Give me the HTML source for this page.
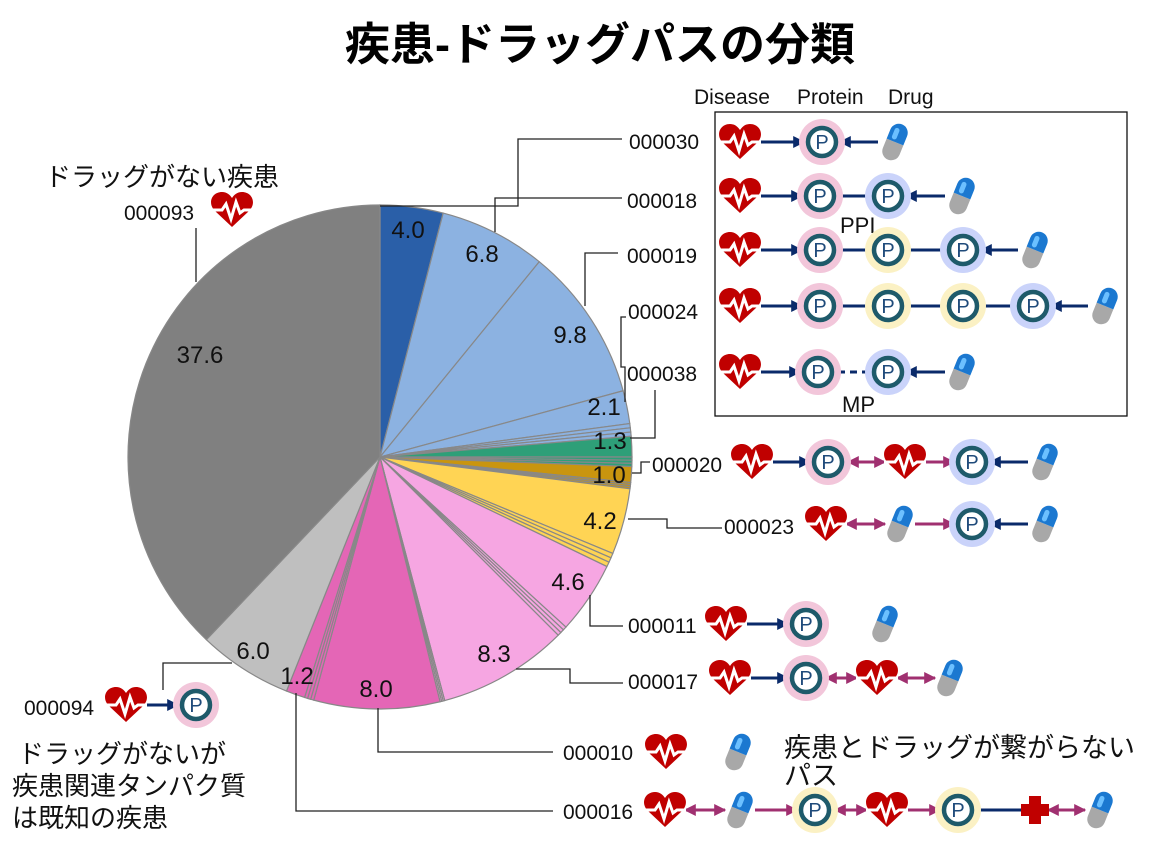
<!DOCTYPE html>
<html><head><meta charset="utf-8"><style>
html,body{margin:0;padding:0;background:#fff}
svg{display:block}
text{font-family:"Liberation Sans","Noto Sans CJK JP",sans-serif}
</style></head><body>
<svg id="s" width="1168" height="858" viewBox="0 0 1168 858" xmlns="http://www.w3.org/2000/svg">
<defs>
<symbol id="heart" viewBox="-21 -19 42 38" overflow="visible">
<path d="M0,17 L-17,1 C-25,-7 -20,-18 -10,-18 C-5,-18 -2,-15 0,-12 C2,-15 5,-18 10,-18 C20,-18 25,-7 17,1 Z" fill="#c00000"/>
<polyline points="-21,0 -10,0 -6,-6 -1,9 4,-8 8,3 12,0 21,0" fill="none" stroke="#fff" stroke-width="3"/>
</symbol>
<symbol id="pill" viewBox="-12 -20 24 40" overflow="visible">
<g transform="rotate(22)">
<path d="M-9,0 L-9,10 A9,9 0 0 0 9,10 L9,0 Z" fill="#a8a8a8"/>
<path d="M-9,0 L-9,-10 A9,9 0 0 1 9,-10 L9,0 Z" fill="#1b78d0"/>
<rect x="-5" y="-14" width="5" height="12" rx="2.5" fill="#6cc0ff"/>
</g>
</symbol>
<marker id="an" viewBox="0 0 10 10" refX="9" refY="5" markerWidth="4" markerHeight="4" orient="auto-start-reverse"><path d="M0,0 L10,5 L0,10 Z" fill="#0a2a6a"/></marker>
<marker id="ap" viewBox="0 0 10 10" refX="9" refY="5" markerWidth="4" markerHeight="4" orient="auto-start-reverse"><path d="M0,0 L10,5 L0,10 Z" fill="#a03070"/></marker>
</defs>
<g id="pie"></g>
<text x="600" y="60" font-size="45" font-weight="bold" text-anchor="middle">疾患-ドラッグパスの分類</text>
<g font-size="24" text-anchor="middle" fill="#111">
<text x="408" y="238">4.0</text><text x="482" y="262">6.8</text><text x="570" y="343">9.8</text>
<text x="604" y="415">2.1</text><text x="610" y="449">1.3</text><text x="609" y="483">1.0</text>
<text x="600" y="529">4.2</text><text x="568" y="590">4.6</text><text x="494" y="662">8.3</text>
<text x="376" y="697">8.0</text><text x="297" y="684">1.2</text><text x="253" y="659">6.0</text>
<text x="200" y="363">37.6</text>
</g>
<g fill="none" stroke="#222" stroke-width="1.3">
<polyline points="622,139 518,139 518,206 380,206"/>
<polyline points="622,198 495,198 495,232"/>
<polyline points="618,253 585,253 585,306"/>
<polyline points="626,317 621,317 621,367 625,367 625,402"/>
<polyline points="655,390 655,438 630,438"/>
<polyline points="632,473 641,473 641,462 650,462"/>
<polyline points="628,519 667,519 667,528 722,528"/>
<polyline points="590,595 590,626 623,626"/>
<polyline points="516,669 570,669 570,683 623,683"/>
<polyline points="378,708 378,752 553,752"/>
<polyline points="296,693 296,811 553,811"/>
<polyline points="232,663 163,663 163,690"/>
<polyline points="196,228 196,282"/>
</g>
<g font-size="21" fill="#111">
<text x="629" y="149">000030</text><text x="627" y="208">000018</text><text x="627" y="263">000019</text>
<text x="628" y="319">000024</text><text x="627" y="381">000038</text><text x="652" y="472">000020</text>
<text x="724" y="534">000023</text><text x="628" y="633">000011</text><text x="628" y="689">000017</text>
<text x="563" y="760">000010</text><text x="563" y="819">000016</text><text x="24" y="715">000094</text>
<text x="124" y="220">000093</text>
<text x="694" y="104">Disease</text><text x="797" y="104">Protein</text><text x="888" y="104">Drug</text>
<text x="840" y="233" font-size="22">PPI</text><text x="842" y="412" font-size="22">MP</text>
</g>
<g font-size="26" fill="#111">
<text x="45" y="186">ドラッグがない疾患</text>
<text x="18" y="763">ドラッグがないが</text>
<text x="12" y="795">疾患関連タンパク質</text>
<text x="12" y="827">は既知の疾患</text>
<text x="784" y="757" font-size="27">疾患とドラッグが繋がらない</text>
<text x="784" y="785" font-size="27">パス</text>
</g>
<rect x="715" y="112" width="412" height="304" fill="none" stroke="#111" stroke-width="1.3"/>
<g id="icons"></g>
<g font-size="20" fill="#1e4a7a" text-anchor="middle" id="ptext">
<text x="822" y="149">P</text>
<text x="820" y="203">P</text><text x="888" y="203">P</text>
<text x="820" y="257">P</text><text x="888" y="257">P</text><text x="963" y="257">P</text>
<text x="820" y="313">P</text><text x="888" y="313">P</text><text x="963" y="313">P</text><text x="1033" y="313">P</text>
<text x="818" y="379">P</text><text x="888" y="379">P</text>
<text x="828" y="469">P</text><text x="972" y="469">P</text>
<text x="972" y="531">P</text>
<text x="806" y="631">P</text>
<text x="806" y="685">P</text>
<text x="815" y="817">P</text><text x="958" y="817">P</text>
<text x="196" y="712">P</text>
</g>
<script>
(function(){
var NS="http://www.w3.org/2000/svg";
var cx=380,cy=457,r=252;
var sl=[[4.0,"#2a5fa8"],[6.8,"#8cb2e1"],[9.8,"#8cb2e1"],[2.1,"#8cb2e1"],[0.8,"#8cb2e1",1],[1.3,"#2e9f78"],[0.6,"#2e9f78",1],[1.0,"#c9950f"],[0.4,"#c9950f",1],[4.2,"#ffd454"],[0.9,"#ffd454",1],[4.6,"#f6a6e2"],[0.7,"#f6a6e2",1],[8.3,"#f6a6e2"],[0.3,"#f6a6e2",1],[8.0,"#e466b6"],[0.6,"#e466b6",1],[1.2,"#e466b6"],[6.0,"#bfbfbf"],[37.6,"#808080"]];
var tot=0;sl.forEach(function(s){tot+=s[0]});
var g=document.getElementById("pie"),a=0;
function pt(t){return [cx+r*Math.sin(t),cy-r*Math.cos(t)]}
function add(v,c){var t0=a/tot*2*Math.PI;a+=v;var t1=a/tot*2*Math.PI;var p0=pt(t0),p1=pt(t1);
var p=document.createElementNS(NS,"path");
p.setAttribute("d","M"+cx+","+cy+"L"+p0[0]+","+p0[1]+"A"+r+","+r+" 0 "+((t1-t0)>Math.PI?1:0)+" 1 "+p1[0]+","+p1[1]+"Z");
p.setAttribute("fill",c);p.setAttribute("stroke","#888");p.setAttribute("stroke-width","1.2");g.appendChild(p);}
sl.forEach(function(s){if(s[2]){for(var i=0;i<3;i++)add(s[0]/3,s[1]);}else add(s[0],s[1]);});
var ic=document.getElementById("icons");
function el(n,at){var e=document.createElementNS(NS,n);for(var k in at)e.setAttribute(k,at[k]);ic.appendChild(e);return e;}
function heart(x,y){el("use",{href:"#heart",x:x-21,y:y-19,width:42,height:38});}
function pill(x,y){el("use",{href:"#pill",x:x-12,y:y-20,width:24,height:40});}
var halo={p:"#f2c6da",b:"#cad3fa",y:"#fbf1c4"};
function node(x,y,h){el("circle",{cx:x,cy:y,r:23,fill:halo[h]});el("circle",{cx:x,cy:y,r:14,fill:"#fff",stroke:"#1e5a6a","stroke-width":4.5});}
function ln(x1,y,x2,kind,ends,dash){var at={x1:x1,y1:y,x2:x2,y2:y,stroke:kind=="p"?"#a03070":"#0a2a6a","stroke-width":3};
var m="url(#a"+(kind=="p"?"p":"n")+")";if(ends.indexOf("e")>=0)at["marker-end"]=m;if(ends.indexOf("s")>=0)at["marker-start"]=m;if(dash)at["stroke-dasharray"]="7,5";el("line",at);}
ln(760,142,804,"n","e");ln(878,142,840,"n","e");heart(740,142);node(822,142,"p");pill(895,142);
ln(760,196,802,"n","e");ln(838,196,870,"n","");ln(945,196,906,"n","e");heart(740,196);node(820,196,"p");node(888,196,"b");pill(962,196);
ln(760,250,802,"n","e");ln(838,250,945,"n","");ln(1018,250,981,"n","e");heart(740,250);node(820,250,"p");node(888,250,"y");node(963,250,"b");pill(1035,250);
ln(760,306,802,"n","e");ln(838,306,1015,"n","");ln(1088,306,1051,"n","e");heart(740,306);node(820,306,"p");node(888,306,"y");node(963,306,"y");node(1033,306,"b");pill(1105,306);
ln(760,372,800,"n","e");ln(838,372,870,"n","",1);ln(945,372,906,"n","e");heart(740,372);node(818,372,"p");node(888,372,"b");pill(962,372);
ln(772,462,810,"n","e");ln(848,462,885,"p","se");ln(925,462,954,"p","e");ln(1028,462,990,"n","e");heart(752,462);node(828,462,"p");heart(905,462);node(972,462,"b");pill(1045,462);
ln(846,524,885,"p","se");ln(915,524,954,"p","e");ln(1028,524,990,"n","e");heart(826,524);pill(900,524);node(972,524,"b");pill(1045,524);
ln(746,624,788,"n","e");heart(726,624);node(806,624,"p");pill(885,624);
ln(750,678,788,"n","e");ln(826,678,857,"p","se");ln(897,678,935,"p","se");heart(730,678);node(806,678,"p");heart(877,678);pill(950,678);
heart(666,752);pill(738,752);
ln(685,810,725,"p","se");ln(755,810,797,"p","e");ln(835,810,867,"p","se");ln(907,810,940,"p","e");ln(976,810,1022,"n","");ln(1048,810,1085,"p","se");
heart(665,810);pill(740,810);node(815,810,"y");heart(887,810);node(958,810,"y");
el("path",{d:"M1029,796h12v8h8v12h-8v8h-12v-8h-8v-12h8z",fill:"#c00000"});pill(1100,810);
ln(146,705,178,"n","e");heart(126,705);node(196,705,"p");
heart(232,210);
ic.parentNode.appendChild(document.getElementById("ptext"));
})();
</script>
</svg>
</body></html>
